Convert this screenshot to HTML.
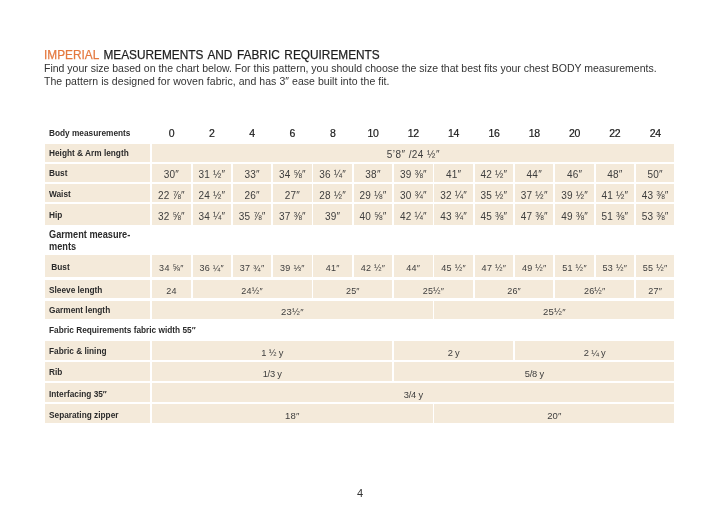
<!DOCTYPE html>
<html><head><meta charset="utf-8"><style>
html,body{margin:0;padding:0;background:#fff;width:720px;height:513px;overflow:hidden;position:relative}
.wrap{position:absolute;left:0;top:0;width:720px;height:513px;will-change:transform}
body{font-family:"Liberation Sans",sans-serif}
.c{position:absolute;background:#f4eada}
.t{position:absolute;white-space:pre;line-height:0;height:0}
.lab{font-weight:bold;color:#2b2b2b;letter-spacing:0px;transform:scaleX(0.92);transform-origin:0 0}
.lab2{font-weight:bold;color:#2b2b2b;letter-spacing:0px;transform:scaleX(0.92);transform-origin:0 0}
.dat{color:#3d3d3d;letter-spacing:0.2px}
.hdr{color:#1a1a1a;letter-spacing:-0.3px;-webkit-text-stroke:0.2px #1a1a1a}
.title{position:absolute;left:44px;top:0;font-size:13.5px;letter-spacing:0px;word-spacing:1.5px;color:#1e1e1e;white-space:pre;line-height:0;transform:scaleX(0.877);transform-origin:0 0;-webkit-text-stroke:0.25px #1e1e1e}
.title b{-webkit-text-stroke:0.25px #e4793f}
.title b{font-weight:normal;color:#e4793f}
.p{position:absolute;left:44px;font-size:10.5px;color:#333;white-space:pre;line-height:0}
.pg{position:absolute;left:0;width:720px;text-align:center;font-size:11px;color:#333;line-height:0}
</style></head><body><div class="wrap">
<div class="title" style="top:54.52px"><b>IMPERIAL</b> MEASUREMENTS AND FABRIC REQUIREMENTS</div>
<div class="p" style="top:67.96px">Find your size based on the chart below. For this pattern, you should choose the size that best fits your chest BODY measurements.</div>
<div class="p" style="top:80.56px;letter-spacing:0.05px">The pattern is designed for woven fabric, and has 3&#8243; ease built into the fit.</div>
<div class="c" style="left:45.40px;top:143.60px;width:105.00px;height:18.20px"></div>
<div class="t lab" style="left:48.80px;top:153.48px;font-size:9px;">Height &amp; Arm length</div>
<div class="c" style="left:152.20px;top:143.60px;width:522.23px;height:18.20px"></div>
<div class="t dat" style="left:313.32px;top:155.13px;width:200px;text-align:center;font-size:10px;letter-spacing:0.45px">5&#8217;8&#8243; /24 &#189;&#8243;</div>
<div class="c" style="left:45.40px;top:163.80px;width:105.00px;height:18.00px"></div>
<div class="t lab" style="left:48.80px;top:173.48px;font-size:9px;">Bust</div>
<div class="c" style="left:152.20px;top:163.80px;width:38.51px;height:18.00px"></div>
<div class="t dat" style="left:71.46px;top:174.94px;width:200px;text-align:center;font-size:10px;">30&#8243;</div>
<div class="c" style="left:192.51px;top:163.80px;width:38.51px;height:18.00px"></div>
<div class="t dat" style="left:111.77px;top:174.94px;width:200px;text-align:center;font-size:10px;">31 &#189;&#8243;</div>
<div class="c" style="left:232.82px;top:163.80px;width:38.51px;height:18.00px"></div>
<div class="t dat" style="left:152.07px;top:174.94px;width:200px;text-align:center;font-size:10px;">33&#8243;</div>
<div class="c" style="left:273.13px;top:163.80px;width:38.51px;height:18.00px"></div>
<div class="t dat" style="left:192.38px;top:174.94px;width:200px;text-align:center;font-size:10px;">34 &#8541;&#8243;</div>
<div class="c" style="left:313.44px;top:163.80px;width:38.51px;height:18.00px"></div>
<div class="t dat" style="left:232.70px;top:174.94px;width:200px;text-align:center;font-size:10px;">36 &#188;&#8243;</div>
<div class="c" style="left:353.75px;top:163.80px;width:38.51px;height:18.00px"></div>
<div class="t dat" style="left:273.00px;top:174.94px;width:200px;text-align:center;font-size:10px;">38&#8243;</div>
<div class="c" style="left:394.06px;top:163.80px;width:38.51px;height:18.00px"></div>
<div class="t dat" style="left:313.32px;top:174.94px;width:200px;text-align:center;font-size:10px;">39 &#8540;&#8243;</div>
<div class="c" style="left:434.37px;top:163.80px;width:38.51px;height:18.00px"></div>
<div class="t dat" style="left:353.62px;top:174.94px;width:200px;text-align:center;font-size:10px;">41&#8243;</div>
<div class="c" style="left:474.68px;top:163.80px;width:38.51px;height:18.00px"></div>
<div class="t dat" style="left:393.94px;top:174.94px;width:200px;text-align:center;font-size:10px;">42 &#189;&#8243;</div>
<div class="c" style="left:514.99px;top:163.80px;width:38.51px;height:18.00px"></div>
<div class="t dat" style="left:434.25px;top:174.94px;width:200px;text-align:center;font-size:10px;">44&#8243;</div>
<div class="c" style="left:555.30px;top:163.80px;width:38.51px;height:18.00px"></div>
<div class="t dat" style="left:474.56px;top:174.94px;width:200px;text-align:center;font-size:10px;">46&#8243;</div>
<div class="c" style="left:595.61px;top:163.80px;width:38.51px;height:18.00px"></div>
<div class="t dat" style="left:514.87px;top:174.94px;width:200px;text-align:center;font-size:10px;">48&#8243;</div>
<div class="c" style="left:635.92px;top:163.80px;width:38.51px;height:18.00px"></div>
<div class="t dat" style="left:555.18px;top:174.94px;width:200px;text-align:center;font-size:10px;">50&#8243;</div>
<div class="c" style="left:45.40px;top:183.80px;width:105.00px;height:18.10px"></div>
<div class="t lab" style="left:48.80px;top:193.68px;font-size:9px;">Waist</div>
<div class="c" style="left:152.20px;top:183.80px;width:38.51px;height:18.10px"></div>
<div class="t dat" style="left:71.46px;top:195.63px;width:200px;text-align:center;font-size:10px;">22 &#8542;&#8243;</div>
<div class="c" style="left:192.51px;top:183.80px;width:38.51px;height:18.10px"></div>
<div class="t dat" style="left:111.77px;top:195.63px;width:200px;text-align:center;font-size:10px;">24 &#189;&#8243;</div>
<div class="c" style="left:232.82px;top:183.80px;width:38.51px;height:18.10px"></div>
<div class="t dat" style="left:152.07px;top:195.63px;width:200px;text-align:center;font-size:10px;">26&#8243;</div>
<div class="c" style="left:273.13px;top:183.80px;width:38.51px;height:18.10px"></div>
<div class="t dat" style="left:192.38px;top:195.63px;width:200px;text-align:center;font-size:10px;">27&#8243;</div>
<div class="c" style="left:313.44px;top:183.80px;width:38.51px;height:18.10px"></div>
<div class="t dat" style="left:232.70px;top:195.63px;width:200px;text-align:center;font-size:10px;">28 &#189;&#8243;</div>
<div class="c" style="left:353.75px;top:183.80px;width:38.51px;height:18.10px"></div>
<div class="t dat" style="left:273.00px;top:195.63px;width:200px;text-align:center;font-size:10px;">29 &#8539;&#8243;</div>
<div class="c" style="left:394.06px;top:183.80px;width:38.51px;height:18.10px"></div>
<div class="t dat" style="left:313.32px;top:195.63px;width:200px;text-align:center;font-size:10px;">30 &#190;&#8243;</div>
<div class="c" style="left:434.37px;top:183.80px;width:38.51px;height:18.10px"></div>
<div class="t dat" style="left:353.62px;top:195.63px;width:200px;text-align:center;font-size:10px;">32 &#188;&#8243;</div>
<div class="c" style="left:474.68px;top:183.80px;width:38.51px;height:18.10px"></div>
<div class="t dat" style="left:393.94px;top:195.63px;width:200px;text-align:center;font-size:10px;">35 &#189;&#8243;</div>
<div class="c" style="left:514.99px;top:183.80px;width:38.51px;height:18.10px"></div>
<div class="t dat" style="left:434.25px;top:195.63px;width:200px;text-align:center;font-size:10px;">37 &#189;&#8243;</div>
<div class="c" style="left:555.30px;top:183.80px;width:38.51px;height:18.10px"></div>
<div class="t dat" style="left:474.56px;top:195.63px;width:200px;text-align:center;font-size:10px;">39 &#189;&#8243;</div>
<div class="c" style="left:595.61px;top:183.80px;width:38.51px;height:18.10px"></div>
<div class="t dat" style="left:514.87px;top:195.63px;width:200px;text-align:center;font-size:10px;">41 &#189;&#8243;</div>
<div class="c" style="left:635.92px;top:183.80px;width:38.51px;height:18.10px"></div>
<div class="t dat" style="left:555.18px;top:195.63px;width:200px;text-align:center;font-size:10px;">43 &#8540;&#8243;</div>
<div class="c" style="left:45.40px;top:203.90px;width:105.00px;height:21.10px"></div>
<div class="t lab" style="left:48.80px;top:214.88px;font-size:9px;">Hip</div>
<div class="c" style="left:152.20px;top:203.90px;width:38.51px;height:21.10px"></div>
<div class="t dat" style="left:71.46px;top:216.94px;width:200px;text-align:center;font-size:10px;">32 &#8541;&#8243;</div>
<div class="c" style="left:192.51px;top:203.90px;width:38.51px;height:21.10px"></div>
<div class="t dat" style="left:111.77px;top:216.94px;width:200px;text-align:center;font-size:10px;">34 &#188;&#8243;</div>
<div class="c" style="left:232.82px;top:203.90px;width:38.51px;height:21.10px"></div>
<div class="t dat" style="left:152.07px;top:216.94px;width:200px;text-align:center;font-size:10px;">35 &#8542;&#8243;</div>
<div class="c" style="left:273.13px;top:203.90px;width:38.51px;height:21.10px"></div>
<div class="t dat" style="left:192.38px;top:216.94px;width:200px;text-align:center;font-size:10px;">37 &#8540;&#8243;</div>
<div class="c" style="left:313.44px;top:203.90px;width:38.51px;height:21.10px"></div>
<div class="t dat" style="left:232.70px;top:216.94px;width:200px;text-align:center;font-size:10px;">39&#8243;</div>
<div class="c" style="left:353.75px;top:203.90px;width:38.51px;height:21.10px"></div>
<div class="t dat" style="left:273.00px;top:216.94px;width:200px;text-align:center;font-size:10px;">40 &#8541;&#8243;</div>
<div class="c" style="left:394.06px;top:203.90px;width:38.51px;height:21.10px"></div>
<div class="t dat" style="left:313.32px;top:216.94px;width:200px;text-align:center;font-size:10px;">42 &#188;&#8243;</div>
<div class="c" style="left:434.37px;top:203.90px;width:38.51px;height:21.10px"></div>
<div class="t dat" style="left:353.62px;top:216.94px;width:200px;text-align:center;font-size:10px;">43 &#190;&#8243;</div>
<div class="c" style="left:474.68px;top:203.90px;width:38.51px;height:21.10px"></div>
<div class="t dat" style="left:393.94px;top:216.94px;width:200px;text-align:center;font-size:10px;">45 &#8540;&#8243;</div>
<div class="c" style="left:514.99px;top:203.90px;width:38.51px;height:21.10px"></div>
<div class="t dat" style="left:434.25px;top:216.94px;width:200px;text-align:center;font-size:10px;">47 &#8540;&#8243;</div>
<div class="c" style="left:555.30px;top:203.90px;width:38.51px;height:21.10px"></div>
<div class="t dat" style="left:474.56px;top:216.94px;width:200px;text-align:center;font-size:10px;">49 &#8540;&#8243;</div>
<div class="c" style="left:595.61px;top:203.90px;width:38.51px;height:21.10px"></div>
<div class="t dat" style="left:514.87px;top:216.94px;width:200px;text-align:center;font-size:10px;">51 &#8540;&#8243;</div>
<div class="c" style="left:635.92px;top:203.90px;width:38.51px;height:21.10px"></div>
<div class="t dat" style="left:555.18px;top:216.94px;width:200px;text-align:center;font-size:10px;">53 &#8540;&#8243;</div>
<div class="c" style="left:45.40px;top:255.00px;width:105.00px;height:22.20px"></div>
<div class="t lab" style="left:48.80px;top:266.88px;font-size:9px;">&nbsp;Bust</div>
<div class="c" style="left:152.20px;top:255.00px;width:38.51px;height:22.20px"></div>
<div class="t dat" style="left:71.46px;top:268.38px;width:200px;text-align:center;font-size:9px;letter-spacing:0.3px">34 &#8541;&#8243;</div>
<div class="c" style="left:192.51px;top:255.00px;width:38.51px;height:22.20px"></div>
<div class="t dat" style="left:111.77px;top:268.38px;width:200px;text-align:center;font-size:9px;letter-spacing:0.3px">36 &#188;&#8243;</div>
<div class="c" style="left:232.82px;top:255.00px;width:38.51px;height:22.20px"></div>
<div class="t dat" style="left:152.07px;top:268.38px;width:200px;text-align:center;font-size:9px;letter-spacing:0.3px">37 &#190;&#8243;</div>
<div class="c" style="left:273.13px;top:255.00px;width:38.51px;height:22.20px"></div>
<div class="t dat" style="left:192.38px;top:268.38px;width:200px;text-align:center;font-size:9px;letter-spacing:0.3px">39 &#8531;&#8243;</div>
<div class="c" style="left:313.44px;top:255.00px;width:38.51px;height:22.20px"></div>
<div class="t dat" style="left:232.70px;top:268.38px;width:200px;text-align:center;font-size:9px;letter-spacing:0.3px">41&#8243;</div>
<div class="c" style="left:353.75px;top:255.00px;width:38.51px;height:22.20px"></div>
<div class="t dat" style="left:273.00px;top:268.38px;width:200px;text-align:center;font-size:9px;letter-spacing:0.3px">42 &#189;&#8243;</div>
<div class="c" style="left:394.06px;top:255.00px;width:38.51px;height:22.20px"></div>
<div class="t dat" style="left:313.32px;top:268.38px;width:200px;text-align:center;font-size:9px;letter-spacing:0.3px">44&#8243;</div>
<div class="c" style="left:434.37px;top:255.00px;width:38.51px;height:22.20px"></div>
<div class="t dat" style="left:353.62px;top:268.38px;width:200px;text-align:center;font-size:9px;letter-spacing:0.3px">45 &#189;&#8243;</div>
<div class="c" style="left:474.68px;top:255.00px;width:38.51px;height:22.20px"></div>
<div class="t dat" style="left:393.94px;top:268.38px;width:200px;text-align:center;font-size:9px;letter-spacing:0.3px">47 &#189;&#8243;</div>
<div class="c" style="left:514.99px;top:255.00px;width:38.51px;height:22.20px"></div>
<div class="t dat" style="left:434.25px;top:268.38px;width:200px;text-align:center;font-size:9px;letter-spacing:0.3px">49 &#189;&#8243;</div>
<div class="c" style="left:555.30px;top:255.00px;width:38.51px;height:22.20px"></div>
<div class="t dat" style="left:474.56px;top:268.38px;width:200px;text-align:center;font-size:9px;letter-spacing:0.3px">51 &#189;&#8243;</div>
<div class="c" style="left:595.61px;top:255.00px;width:38.51px;height:22.20px"></div>
<div class="t dat" style="left:514.87px;top:268.38px;width:200px;text-align:center;font-size:9px;letter-spacing:0.3px">53 &#189;&#8243;</div>
<div class="c" style="left:635.92px;top:255.00px;width:38.51px;height:22.20px"></div>
<div class="t dat" style="left:555.18px;top:268.38px;width:200px;text-align:center;font-size:9px;letter-spacing:0.3px">55 &#189;&#8243;</div>
<div class="c" style="left:45.40px;top:279.60px;width:105.00px;height:18.70px"></div>
<div class="t lab" style="left:48.80px;top:289.98px;font-size:9px;">Sleeve length</div>
<div class="c" style="left:152.20px;top:279.60px;width:38.51px;height:18.70px"></div>
<div class="t dat" style="left:71.46px;top:291.48px;width:200px;text-align:center;font-size:9px;letter-spacing:0.2px">24</div>
<div class="c" style="left:192.51px;top:279.60px;width:119.13px;height:18.70px"></div>
<div class="t dat" style="left:152.08px;top:291.48px;width:200px;text-align:center;font-size:9px;letter-spacing:0.2px">24&#189;&#8243;</div>
<div class="c" style="left:313.44px;top:279.60px;width:78.82px;height:18.70px"></div>
<div class="t dat" style="left:252.85px;top:291.48px;width:200px;text-align:center;font-size:9px;letter-spacing:0.2px">25&#8243;</div>
<div class="c" style="left:394.06px;top:279.60px;width:78.82px;height:18.70px"></div>
<div class="t dat" style="left:333.47px;top:291.48px;width:200px;text-align:center;font-size:9px;letter-spacing:0.2px">25&#189;&#8243;</div>
<div class="c" style="left:474.68px;top:279.60px;width:78.82px;height:18.70px"></div>
<div class="t dat" style="left:414.09px;top:291.48px;width:200px;text-align:center;font-size:9px;letter-spacing:0.2px">26&#8243;</div>
<div class="c" style="left:555.30px;top:279.60px;width:78.82px;height:18.70px"></div>
<div class="t dat" style="left:494.71px;top:291.48px;width:200px;text-align:center;font-size:9px;letter-spacing:0.2px">26&#189;&#8243;</div>
<div class="c" style="left:635.92px;top:279.60px;width:38.51px;height:18.70px"></div>
<div class="t dat" style="left:555.18px;top:291.48px;width:200px;text-align:center;font-size:9px;letter-spacing:0.2px">27&#8243;</div>
<div class="c" style="left:45.40px;top:300.50px;width:105.00px;height:18.10px"></div>
<div class="t lab" style="left:48.80px;top:310.38px;font-size:9px;">Garment length</div>
<div class="c" style="left:152.20px;top:300.50px;width:280.37px;height:18.10px"></div>
<div class="t dat" style="left:192.38px;top:311.91px;width:200px;text-align:center;font-size:9.5px;">23&#189;&#8243;</div>
<div class="c" style="left:434.37px;top:300.50px;width:240.06px;height:18.10px"></div>
<div class="t dat" style="left:454.40px;top:311.91px;width:200px;text-align:center;font-size:9.5px;">25&#189;&#8243;</div>
<div class="c" style="left:45.40px;top:340.80px;width:105.00px;height:19.20px"></div>
<div class="t lab" style="left:48.80px;top:351.28px;font-size:9px;">Fabric &amp; lining</div>
<div class="c" style="left:152.20px;top:340.80px;width:240.06px;height:19.20px"></div>
<div class="t dat" style="left:172.23px;top:352.88px;width:200px;text-align:center;font-size:9.3px;letter-spacing:-0.2px">1 &#189; y</div>
<div class="c" style="left:394.06px;top:340.80px;width:119.13px;height:19.20px"></div>
<div class="t dat" style="left:353.63px;top:352.88px;width:200px;text-align:center;font-size:9.3px;letter-spacing:-0.2px">2 y</div>
<div class="c" style="left:514.99px;top:340.80px;width:159.44px;height:19.20px"></div>
<div class="t dat" style="left:494.71px;top:352.88px;width:200px;text-align:center;font-size:9.3px;letter-spacing:-0.2px">2 &#188; y</div>
<div class="c" style="left:45.40px;top:362.00px;width:105.00px;height:19.00px"></div>
<div class="t lab" style="left:48.80px;top:372.28px;font-size:9px;">Rib</div>
<div class="c" style="left:152.20px;top:362.00px;width:240.06px;height:19.00px"></div>
<div class="t dat" style="left:172.23px;top:373.68px;width:200px;text-align:center;font-size:9.3px;letter-spacing:-0.2px">1/3 y</div>
<div class="c" style="left:394.06px;top:362.00px;width:280.37px;height:19.00px"></div>
<div class="t dat" style="left:434.25px;top:373.68px;width:200px;text-align:center;font-size:9.3px;letter-spacing:-0.2px">5/8 y</div>
<div class="c" style="left:45.40px;top:383.00px;width:105.00px;height:19.20px"></div>
<div class="t lab" style="left:48.80px;top:393.58px;font-size:9px;">Interfacing 35&#8243;</div>
<div class="c" style="left:152.20px;top:383.00px;width:522.23px;height:19.20px"></div>
<div class="t dat" style="left:313.32px;top:394.98px;width:200px;text-align:center;font-size:9.3px;letter-spacing:-0.2px">3/4 y</div>
<div class="c" style="left:45.40px;top:404.20px;width:105.00px;height:18.80px"></div>
<div class="t lab" style="left:48.80px;top:414.68px;font-size:9px;">Separating zipper</div>
<div class="c" style="left:152.20px;top:404.20px;width:280.37px;height:18.80px"></div>
<div class="t dat" style="left:192.38px;top:416.11px;width:200px;text-align:center;font-size:9.5px;">18&#8243;</div>
<div class="c" style="left:434.37px;top:404.20px;width:240.06px;height:18.80px"></div>
<div class="t dat" style="left:454.40px;top:416.11px;width:200px;text-align:center;font-size:9.5px;">20&#8243;</div>
<div class="t lab" style="left:48.80px;top:133.08px;font-size:9px;">Body measurements</div>
<div class="t hdr" style="left:71.46px;top:133.16px;width:200px;text-align:center;font-size:10.5px;">0</div>
<div class="t hdr" style="left:111.77px;top:133.16px;width:200px;text-align:center;font-size:10.5px;">2</div>
<div class="t hdr" style="left:152.07px;top:133.16px;width:200px;text-align:center;font-size:10.5px;">4</div>
<div class="t hdr" style="left:192.38px;top:133.16px;width:200px;text-align:center;font-size:10.5px;">6</div>
<div class="t hdr" style="left:232.70px;top:133.16px;width:200px;text-align:center;font-size:10.5px;">8</div>
<div class="t hdr" style="left:273.00px;top:133.16px;width:200px;text-align:center;font-size:10.5px;">10</div>
<div class="t hdr" style="left:313.32px;top:133.16px;width:200px;text-align:center;font-size:10.5px;">12</div>
<div class="t hdr" style="left:353.62px;top:133.16px;width:200px;text-align:center;font-size:10.5px;">14</div>
<div class="t hdr" style="left:393.94px;top:133.16px;width:200px;text-align:center;font-size:10.5px;">16</div>
<div class="t hdr" style="left:434.25px;top:133.16px;width:200px;text-align:center;font-size:10.5px;">18</div>
<div class="t hdr" style="left:474.56px;top:133.16px;width:200px;text-align:center;font-size:10.5px;">20</div>
<div class="t hdr" style="left:514.87px;top:133.16px;width:200px;text-align:center;font-size:10.5px;">22</div>
<div class="t hdr" style="left:555.18px;top:133.16px;width:200px;text-align:center;font-size:10.5px;">24</div>
<div class="t lab2" style="left:48.60px;top:234.94px;font-size:10px;">Garment measure-</div>
<div class="t lab2" style="left:48.60px;top:247.03px;font-size:10px;">ments</div>
<div class="t lab" style="left:48.80px;top:329.98px;font-size:9px;">Fabric Requirements fabric width 55&#8243;</div>
<div class="pg" style="top:493.49px">4</div>
</div></body></html>
